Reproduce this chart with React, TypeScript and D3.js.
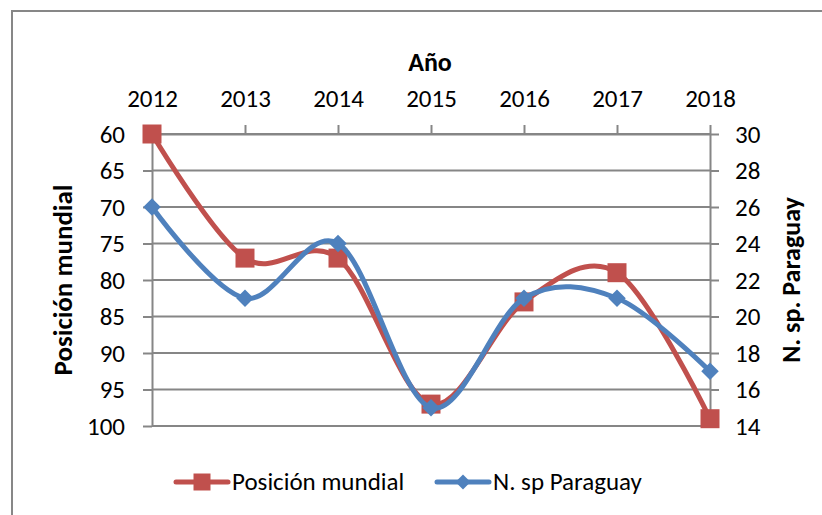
import React, { useEffect, useRef } from "react";
import * as d3 from "d3";

const years = ["2012", "2013", "2014", "2015", "2016", "2017", "2018"];
const posicionMundial = [60, 77, 77, 97, 83, 79, 99];
const nspParaguay = [26, 21, 24, 15, 21, 21, 17];
const leftTicks = [60, 65, 70, 75, 80, 85, 90, 95, 100];
const rightTicks = [30, 28, 26, 24, 22, 20, 18, 16, 14];

const red = "#C0504D";
const blue = "#4F81BD";
const grid = "#868686";
const font = "Carlito, Calibri, Lato, sans-serif";

const App = () => {
  const ref = useRef<SVGSVGElement>(null);

  useEffect(() => {
    document.body.style.margin = "0";
    const svg = d3.select(ref.current);
    svg.selectAll("*").remove();

    const width = 822;
    const height = 515;
    const left = 152;
    const right = 710;
    const top = 134;
    const bottom = 426;

    svg.attr("width", width).attr("height", height).style("background", "white");

    // chart border (runs off the picture on right/bottom)
    svg.append("rect")
      .attr("x", 12).attr("y", 11)
      .attr("width", 830).attr("height", 530)
      .attr("fill", "none").attr("stroke", "#878787").attr("stroke-width", 2);

    const x = d3.scalePoint().domain(years).range([left, right]);
    const yLeft = d3.scaleLinear().domain([60, 100]).range([top, bottom]);
    const yRight = d3.scaleLinear().domain([14, 30]).range([bottom, top]);

    // gridlines
    svg.append("g")
      .selectAll("line")
      .data(leftTicks)
      .enter()
      .append("line")
      .attr("x1", left).attr("x2", right)
      .attr("y1", (d) => yLeft(d)).attr("y2", (d) => yLeft(d))
      .attr("stroke", grid).attr("stroke-width", 2);

    const styleAxis = (g: any) => {
      g.select(".domain").attr("stroke", grid).attr("stroke-width", 2);
      g.selectAll(".tick line").attr("stroke", grid).attr("stroke-width", 2);
      g.selectAll(".tick text")
        .attr("fill", "black")
        .style("font-family", font)
        .style("font-size", "25px");
    };

    const xAxis = svg.append("g")
      .attr("transform", "translate(0," + top + ")")
      .call(d3.axisTop(x).tickSize(9).tickSizeOuter(0).tickPadding(18));
    styleAxis(xAxis);

    const leftAxis = svg.append("g")
      .attr("transform", "translate(" + left + ",0)")
      .call(d3.axisLeft(yLeft).tickValues(leftTicks).tickSize(9).tickSizeOuter(0).tickPadding(18));
    styleAxis(leftAxis);

    const rightAxis = svg.append("g")
      .attr("transform", "translate(" + right + ",0)")
      .call(d3.axisRight(yRight).tickValues(rightTicks).tickSize(9).tickSizeOuter(0).tickPadding(16));
    styleAxis(rightAxis);

    // titles
    svg.append("text")
      .text("Año")
      .attr("x", 430).attr("y", 71)
      .attr("text-anchor", "middle")
      .style("font-family", font).style("font-size", "26px").style("font-weight", "bold");

    svg.append("text")
      .text("Posición mundial")
      .attr("transform", "translate(72,280) rotate(-90)")
      .attr("text-anchor", "middle")
      .style("font-family", font).style("font-size", "27px").style("font-weight", "bold");

    svg.append("text")
      .text("N. sp. Paraguay")
      .attr("transform", "translate(800,280) rotate(-90)")
      .attr("text-anchor", "middle")
      .style("font-family", font).style("font-size", "26px").style("font-weight", "bold");

    const line = d3.line<number>()
      .x((d, i) => x(years[i]) as number)
      .curve(d3.curveCatmullRom.alpha(0));

    const square = d3.symbol().type(d3.symbolSquare).size(19 * 19);
    const diamond = d3.symbol().type(d3.symbolDiamond2).size(14 * 14);

    // Posición mundial (left axis)
    svg.append("path")
      .datum(posicionMundial)
      .attr("d", line.y((d) => yLeft(d)))
      .attr("fill", "none").attr("stroke", red).attr("stroke-width", 5);
    svg.append("g")
      .selectAll("path")
      .data(posicionMundial)
      .enter()
      .append("path")
      .attr("d", square)
      .attr("transform", (d, i) => "translate(" + x(years[i]) + "," + yLeft(d) + ")")
      .attr("fill", red);

    // N. sp Paraguay (right axis)
    svg.append("path")
      .datum(nspParaguay)
      .attr("d", line.y((d) => yRight(d)))
      .attr("fill", "none").attr("stroke", blue).attr("stroke-width", 5);
    svg.append("g")
      .selectAll("path")
      .data(nspParaguay)
      .enter()
      .append("path")
      .attr("d", diamond)
      .attr("transform", (d, i) => "translate(" + x(years[i]) + "," + yRight(d) + ")")
      .attr("fill", blue);

    // legend
    const legendY = 482;
    const legendItems = [
      { name: "Posición mundial", color: red, symbol: d3.symbol().type(d3.symbolSquare).size(17 * 17), x0: 176 },
      { name: "N. sp Paraguay", color: blue, symbol: d3.symbol().type(d3.symbolDiamond2).size(12 * 12), x0: 437 },
    ];
    legendItems.forEach((item) => {
      const g = svg.append("g").attr("transform", "translate(" + item.x0 + "," + legendY + ")");
      g.append("line")
        .attr("x1", 0).attr("x2", 52)
        .attr("stroke", item.color).attr("stroke-width", 5).attr("stroke-linecap", "round");
      g.append("path")
        .attr("d", item.symbol())
        .attr("transform", "translate(26,0)")
        .attr("fill", item.color);
      g.append("text")
        .text(item.name)
        .attr("x", 56).attr("y", 8)
        .style("font-family", font).style("font-size", "25px");
    });
  }, []);

  return <svg ref={ref}></svg>;
};

export default App;
